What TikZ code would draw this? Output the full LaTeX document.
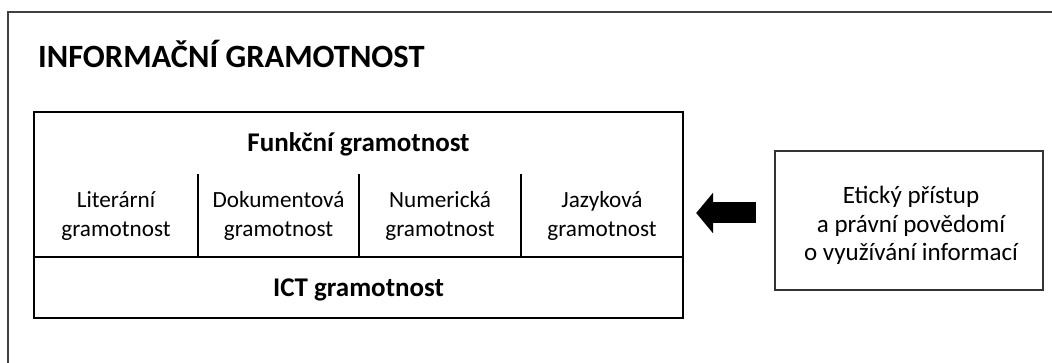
\documentclass[tikz,border=0pt]{standalone}
\usepackage{fontspec}
\setmainfont{Carlito}
\usetikzlibrary{positioning,calc,arrows.meta}

\tikzset{
  px/.style={x=1pt, y=-1pt},
  outerframe/.style={draw=black!75, line width=1.6pt},
  mainbox/.style={draw=black, line width=2.4pt, minimum width=649pt, minimum height=206pt, inner sep=0pt},
  infobox/.style={draw=black!80, line width=2.4pt, minimum width=268pt, minimum height=139pt, inner sep=0pt},
  divider/.style={draw=black, line width=2pt},
  title/.style={font=\fontsize{32.5}{38}\selectfont\bfseries, inner sep=0pt},
  heading/.style={font=\fontsize{27}{32}\selectfont\bfseries, inner sep=0pt},
  cell/.style={align=center, font=\fontsize{23.2}{28.5}\selectfont, inner sep=0pt},
  infotext/.style={align=center, font=\fontsize{25}{28.5}\selectfont, inner sep=0pt},
  fatarrow/.style={draw=black, line width=21pt, -{Triangle[length=17pt, width=40pt]}},
}

\begin{document}
\begin{tikzpicture}[px]
    \useasboundingbox (0,0) rectangle (1052,363) ;  %
    \draw[outerframe] (1052,12) -- (8,12) -- (8,363) ; %

    \node[title, anchor=base west] (title) at (38,68) {INFORMAČNÍ GRAMOTNOST} ; %

    \node[mainbox] (main) at (358.5,215) {} ; %
    \node[heading, anchor=base] (funkcni) at (358.5,152) {Funkční gramotnost} ; %

    \node[cell] (lit) at (116,216) {Literární\\gramotnost} ; %
    \node[cell] (dok) at (278.5,216) {Dokumentová\\gramotnost} ; %
    \node[cell] (num) at (440,216) {Numerická\\gramotnost} ; %
    \node[cell] (jaz) at (602,216) {Jazyková\\gramotnost} ; %

    \node[heading, anchor=base] (ict) at (358.5,297) {ICT gramotnost} ; %

    % cells of the main box
    \coordinate (split_w) at ($(main.west)+(0,42)$) ; %
    \coordinate (split_e) at ($(main.east)+(0,42)$) ; %
    \draw[divider] (split_w) -- (split_e) ; %
    \foreach \x in {198,359,521} {
        \draw[divider] (\x,174) -- (\x,257) ; %
    }

    \node[infobox] (eticky) at (909,220.5) {} ; %
    \node[infotext] (eticky_text) at ($(eticky)+(2,5)$) {Etický přístup\\a právní povědomí\\o využívání informací} ; %

    \draw[fatarrow] ($(eticky.west)+(-18,-7.5)$) -- ($(main.east)+(12,-2)$) ; %

\end{tikzpicture}
\end{document}
